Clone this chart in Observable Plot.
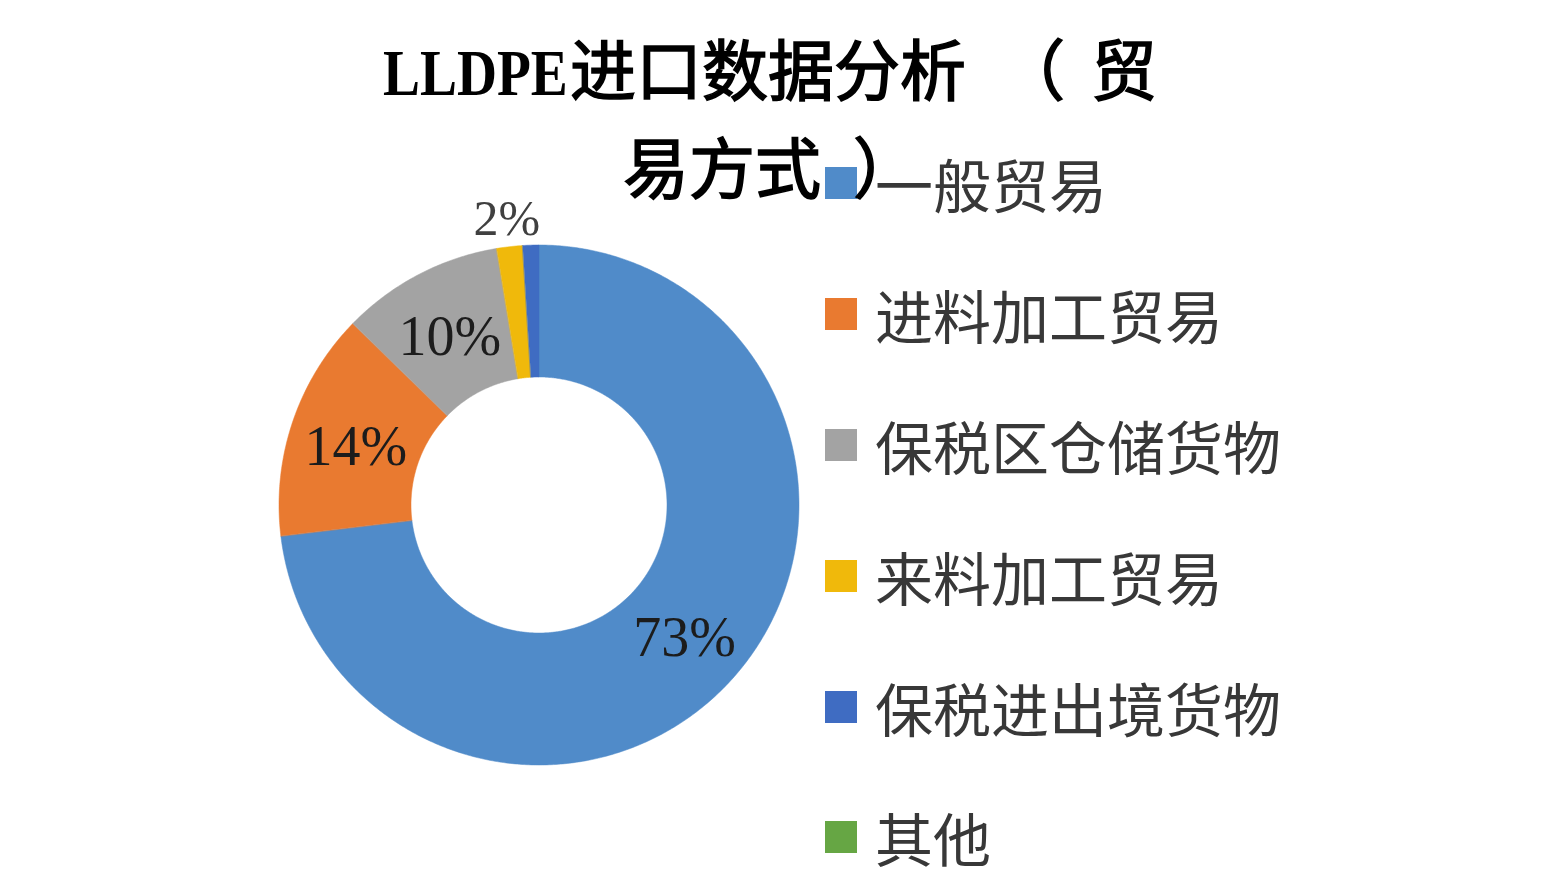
<!DOCTYPE html>
<html>
<head>
<meta charset="utf-8">
<script src="https://cdn.jsdelivr.net/npm/d3@7"></script>
<script src="https://cdn.jsdelivr.net/npm/@observablehq/plot@0.6"></script>
<style>
  html, body { margin: 0; padding: 0; background: #fff; }
  #wrap { position: relative; width: 1564px; height: 880px; overflow: hidden; }
  #chart { position: absolute; left: 0; top: 0; }
  .title { position: absolute; z-index: 2; font-family: "Noto Sans CJK SC", sans-serif; font-weight: 400; font-size: 66px; color: #000; white-space: nowrap; line-height: 1; -webkit-text-stroke: 1.6px #000; }
  .latin { display: inline-block; font-family: "Liberation Serif", serif; font-weight: bold; font-size: 66px; -webkit-text-stroke: 0; transform: scaleX(0.84); transform-origin: left center; margin-right: -33px; }
  #legend { position: absolute; z-index: 1; left: 825px; top: 118px; font-family: "Noto Sans CJK SC", sans-serif; font-size: 58px; color: #383838; }
  .row { display: flex; align-items: center; height: 130.8px; white-space: nowrap; }
  .row span { line-height: 1; }
  .sw { width: 32px; height: 32px; margin-right: 18px; flex: none; }
</style>
</head>
<body>
<div id="wrap">
  <div id="chart"></div>
  <div class="title" id="t1" style="left:383px;top:33px;"></div>
  <div class="title" id="t2" style="left:623px;top:131px;"></div>
  <div id="legend"></div>
</div>
<script>
// ---- data ----
const categories = ["一般贸易", "进料加工贸易", "保税区仓储货物", "来料加工贸易", "保税进出境货物", "其他"];
const shares = [73.1, 14.2, 10.1, 1.6, 1.0, 0.0];
const colors = ["#508BC9", "#E97A30", "#A3A3A3", "#F0B90B", "#3F6CC2", "#66A644"];
const titleLatin = "LLDPE";
const titleLine1a = "进口数据分析";
const titleOpen = "（";
const titleLine1b = "贸";
const titleLine2 = "易方式";
const titleClose = "）";

// ---- geometry from data (unit radius; inner ratio) ----
const inner = 128 / 260;
const total = d3.sum(shares);
const band = [];
const labels = [];
let acc = 0;
categories.forEach((name, i) => {
  const a0 = acc / total * 2 * Math.PI;
  acc += shares[i];
  const a1 = acc / total * 2 * Math.PI;
  if (a1 > a0) {
    const n = Math.max(2, Math.ceil((a1 - a0) / (Math.PI / 360)));
    for (let k = 0; k <= n; k++) {
      const a = a0 + (a1 - a0) * k / n;
      band.push({name, x1: Math.sin(a), y1: Math.cos(a), x2: inner * Math.sin(a), y2: inner * Math.cos(a)});
    }
  }
  const mid = (a0 + a1) / 2;
  const v = shares[i];
  if (v >= 1.5) {
    const r = v < 5 ? 1.115 : (1 + inner) / 2;
    labels.push({name, text: Math.round(v) + "%", x: r * Math.sin(mid), y: r * Math.cos(mid), outside: v < 5});
  }
});

const plot = Plot.plot({
  width: 1564,
  height: 880,
  margin: 0,
  x: {domain: [-1, 1], range: [279, 799], axis: null},
  y: {domain: [-1, 1], range: [765, 245], axis: null},
  color: {domain: categories, range: colors},
  marks: [
    Plot.area(band, {x1: "x1", y1: "y1", x2: "x2", y2: "y2", z: "name", fill: "name", stroke: "name", strokeWidth: 0.5}),
    Plot.text(labels.filter(d => !d.outside), {x: "x", y: "y", text: "text", fontFamily: "Liberation Serif", fontSize: 56, dy: 4, fill: "#1c1c1c"}),
    Plot.text(labels.filter(d => d.outside), {x: "x", y: "y", text: "text", fontFamily: "Liberation Serif", fontSize: 50, dy: 2, fill: "#404040"})
  ]
});
document.getElementById("chart").appendChild(plot);

// title
function span(text, style, cls) {
  const s = document.createElement("span");
  s.textContent = text;
  if (cls) s.className = cls;
  if (style) s.style.cssText = style;
  return s;
}
const t1 = document.getElementById("t1");
t1.appendChild(span(titleLatin, null, "latin"));
t1.appendChild(span(titleLine1a));
t1.appendChild(span(titleOpen, "margin-left:33px;margin-right:26px;"));
t1.appendChild(span(titleLine1b));
const t2 = document.getElementById("t2");
t2.appendChild(span(titleLine2));
t2.appendChild(span(titleClose, "margin-left:32px;"));

// legend
const legend = document.getElementById("legend");
categories.forEach((c, i) => {
  const row = document.createElement("div");
  row.className = "row";
  const sw = document.createElement("div");
  sw.className = "sw";
  sw.style.background = colors[i];
  row.appendChild(sw);
  row.appendChild(span(c));
  legend.appendChild(row);
});
</script>
</body>
</html>
